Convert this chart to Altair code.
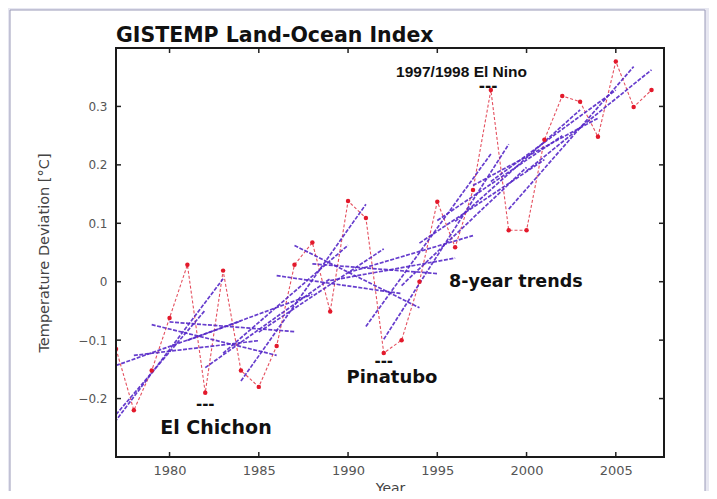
import altair as alt
import pandas as pd

# ---- data ----
years = list(range(1975, 2008))
temps = [-0.28, -0.40, -0.115, -0.22, -0.152, -0.062, 0.029, -0.19, 0.019, -0.152,
         -0.18, -0.11, 0.029, 0.067, -0.051, 0.138, 0.109, -0.122, -0.10, 0.00,
         0.137, 0.059, 0.157, 0.328, 0.088, 0.088, 0.243, 0.318, 0.308, 0.248,
         0.377, 0.299, 0.328]
trend_starts = list(range(1975, 2001))
trend_len = 8
tick_years = [1980, 1985, 1990, 1995, 2000, 2005]
tick_vals = [-0.2, -0.1, 0.0, 0.1, 0.2, 0.3]
chart_title = "GISTEMP Land-Ocean Index"
note_texts = ["1997/1998 El Nino", "El Chichon", "Pinatubo", "8-year trends"]
note_x = [1996.36, 1982.6, 1992.46, 1999.4]
note_y = [0.359, -0.251, -0.165, 0.0]
event_x = [1982.0, 1992.0, 1997.85]
event_y = [-0.21, -0.136, 0.335]

W, H = 548, 409
xs = alt.Scale(domain=[1977, 2007.7], nice=False, zero=False)
ys = alt.Scale(domain=[-0.3, 0.4], nice=False, zero=False)

series = pd.DataFrame({"year": years, "value": temps})
lookup = dict(zip(years, temps))
windows = pd.DataFrame([
    {"window": s, "year": y, "value": lookup[y]}
    for s in trend_starts for y in range(s, s + trend_len)
])
one = pd.DataFrame({"k": [0]})

xaxis = alt.Axis(values=tick_years, format="d", ticks=False, tickSize=0, domain=False, grid=False,
                 labelFont="DejaVu Sans", labelFontSize=13, labelColor="#555", labelPadding=7,
                 title="Year", titleFont="DejaVu Sans", titleFontSize=14, titleFontWeight="normal",
                 titleColor="#444", titlePadding=4, zindex=2)
yaxis = alt.Axis(values=tick_vals, format="~g", ticks=False, tickSize=0, domain=False, grid=False,
                 labelFont="DejaVu Sans", labelFontSize=12, labelColor="#555", labelPadding=9,
                 title="Temperature Deviation [°C]", titleFont="DejaVu Sans", titleFontSize=14.5,
                 titleFontWeight="normal", titleColor="#444", titlePadding=26, zindex=2)

X = alt.X("year:Q", scale=xs, axis=xaxis)
Y = alt.Y("value:Q", scale=ys, axis=yaxis)

panel = alt.Chart(one).mark_rect(fill="white", stroke="#9a9ab8", strokeWidth=1, clip=False).encode(
    x=alt.value(-106), x2=alt.value(589), y=alt.value(-38), y2=alt.value(H + 90))

red_line = alt.Chart(series).mark_line(color="#e4505f", strokeWidth=1.1, strokeDash=[3, 2], clip=True).encode(x=X, y=Y)
red_pts = alt.Chart(series).mark_point(filled=True, color="#e3192b", size=20, opacity=1, clip=True).encode(x=X, y=Y)

trend = alt.Chart(windows).transform_regression(
    "year", "value", groupby=["window"]
).mark_line(color="#5528c8", strokeWidth=1.7, strokeDash=[4, 1.5], opacity=0.9, clip=True).encode(
    x=X, y=Y, detail="window:N")

xt = alt.Chart(pd.DataFrame({"year": tick_years}))
yt = alt.Chart(pd.DataFrame({"value": tick_vals}))
tick_style = dict(color="#222", strokeWidth=1.5)
ticks = [
    xt.mark_rule(**tick_style).encode(x=X, y=alt.value(H), y2=alt.value(H - 5)),
    xt.mark_rule(**tick_style).encode(x=X, y=alt.value(0), y2=alt.value(5)),
    yt.mark_rule(**tick_style).encode(y=Y, x=alt.value(0), x2=alt.value(5)),
    yt.mark_rule(**tick_style).encode(y=Y, x=alt.value(W), x2=alt.value(W - 5)),
]

frame = alt.Chart(one).mark_rect(fillOpacity=0, stroke="#1a1a1a", strokeWidth=2).encode(
    x=alt.value(0), x2=alt.value(W), y=alt.value(0), y2=alt.value(H))

title = alt.Chart(pd.DataFrame({"t": [chart_title]})).mark_text(
    font="DejaVu Sans", fontSize=20.5, fontWeight="bold", color="#111", align="left", baseline="bottom",
    clip=False).encode(x=alt.value(0), y=alt.value(-2), text="t:N")

note_fonts = [("Liberation Sans", 15.5), ("DejaVu Sans", 19), ("DejaVu Sans", 18), ("DejaVu Sans", 17.5)]
notes = []
for i, (font, size) in enumerate(note_fonts):
    df = pd.DataFrame({"text": [note_texts[i]], "year": [note_x[i]], "value": [note_y[i]]})
    notes.append(alt.Chart(df).mark_text(font=font, fontSize=size, fontWeight="bold", color="#111",
                                         align="center", baseline="middle").encode(
        x=X, y=Y, text="text:N"))

events = alt.Chart(pd.DataFrame({"year": event_x, "value": event_y, "t": ["---"] * len(event_x)})).mark_text(
    font="DejaVu Sans", fontSize=15, fontWeight="bold", color="#111", align="center", baseline="middle").encode(
    x=X, y=Y, text="t:N")

chart = alt.layer(panel, red_line, trend, red_pts, *ticks, frame, title, *notes, events).properties(
    width=W, height=H,
    padding={"left": 108, "top": 40, "right": 45, "bottom": 34},
    autosize=alt.AutoSizeParams(type="none"),
    background="#e7e7f1",
).configure_view(strokeWidth=0)

chart.save("out.html", embed_options={"renderer": "svg", "actions": False})
